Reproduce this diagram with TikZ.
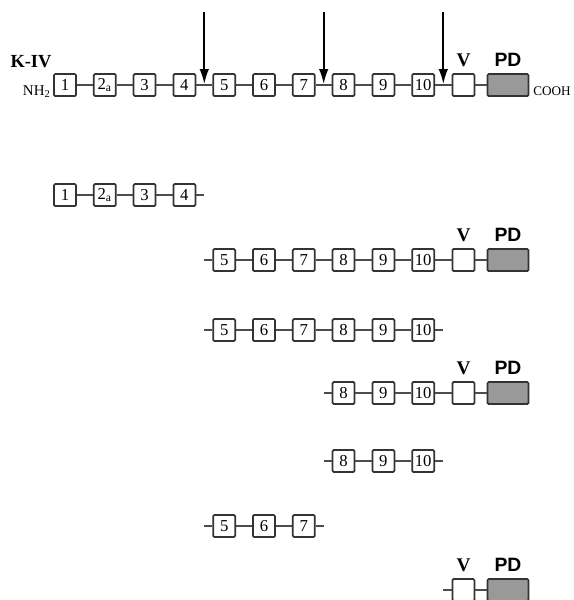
\documentclass[tikz,border=0pt]{standalone}
\usepackage{fontspec}
\setmainfont{Liberation Serif}
\newfontfamily\pdfont{Liberation Sans}
\usepackage{tikz}
\usetikzlibrary{arrows.meta,calc,positioning}
\tikzset{%
	kringle/.style  = {draw=black!80, line width=1pt, rounded corners=0.7pt, minimum size=0.44cm, inner sep=0pt, text centered, font=\fontsize{9.5}{11}\selectfont},
	protease/.style = {kringle, minimum width=0.82cm, fill=black!40},
	vtag/.style     = {inner sep=0pt, font=\bfseries\fontsize{11}{12}\selectfont},
	pdtag/.style    = {inner sep=0pt, font=\pdfont\bfseries\fontsize{11}{12}\selectfont},
	link/.style     = {draw=black!70, line width=0.7pt},
	cleave/.style   = {line width=1pt, -{Latex[length=3mm,width=1.9mm]}},
}
\begin{document}
\begin{tikzpicture}[x=0.02cm,y=-0.02cm]
	\useasboundingbox (0,0) rectangle (574,600);
	% full molecule
	\node[font=\bfseries\fontsize{10.5}{12}\selectfont, anchor=base, inner sep=0pt] (kiv) at (31,67) {K-IV};
	\node[font=\fontsize{8.5}{9}\selectfont, anchor=base east, inner sep=0pt] (nh) at (51,95) {NH\textsubscript{2}};
	\foreach \k/\t/\x in {1/1/65,2/2\textsubscript{a}/104.8,3/3/144.6,4/4/184.4,5/5/224.2,6/6/264,7/7/303.8,8/8/343.6,9/9/383.4,10/10/423.2}
		\node[kringle] (a\k) at (\x,85) {\t};
	\node[kringle] (aV) at (463.5,85) {};
	\node[protease] (aPD) at (508,85) {};
	\node[vtag, above=3.5pt of aV] (aVt) {V};
	\node[pdtag, above=3.5pt of aPD] (aPDt) {PD};
	\node[font=\fontsize{7.5}{8}\selectfont, anchor=base west, inner sep=0pt] (cooh) at (533,95) {COOH};
	\foreach \i/\j in {1/2,2/3,3/4,4/5,5/6,6/7,7/8,8/9,9/10,10/V,V/PD}
		\draw[link] (a\i) -- (a\j);
	% cleavage sites
	\coordinate (cut1) at (204.3,84);
	\coordinate (cut2) at (323.7,84);
	\coordinate (cut3) at (443.3,84);
	\coordinate (top1) at (204.3,12);
	\coordinate (top2) at (323.7,12);
	\coordinate (top3) at (443.3,12);
	\draw[cleave] (top1) -- (cut1);
	\draw[cleave] (top2) -- (cut2);
	\draw[cleave] (top3) -- (cut3);

	% fragment 1-4
	\foreach \k/\t/\x in {1/1/65,2/2\textsubscript{a}/104.8,3/3/144.6,4/4/184.4}
		\node[kringle] (b\k) at (\x,195) {\t};
	\coordinate (bR) at (204.3,195);
	\foreach \i/\j in {1/2,2/3,3/4,4/R}
		\draw[link] (b\i) -- (b\j);

	% fragment 5-PD
	\coordinate (cL) at (204.3,260);
	\foreach \k/\x in {5/224.2,6/264,7/303.8,8/343.6,9/383.4,10/423.2}
		\node[kringle] (c\k) at (\x,260) {\k};
	\node[kringle] (cV) at (463.5,260) {};
	\node[protease] (cPD) at (508,260) {};
	\node[vtag, above=3.5pt of cV] (cVt) {V};
	\node[pdtag, above=3.5pt of cPD] (cPDt) {PD};
	\foreach \i/\j in {L/5,5/6,6/7,7/8,8/9,9/10,10/V,V/PD}
		\draw[link] (c\i) -- (c\j);

	% fragment 5-10
	\coordinate (dL) at (204.3,330);
	\coordinate (dR) at (443.3,330);
	\foreach \k/\x in {5/224.2,6/264,7/303.8,8/343.6,9/383.4,10/423.2}
		\node[kringle] (d\k) at (\x,330) {\k};
	\foreach \i/\j in {L/5,5/6,6/7,7/8,8/9,9/10,10/R}
		\draw[link] (d\i) -- (d\j);

	% fragment 8-PD
	\coordinate (eL) at (323.7,393);
	\foreach \k/\x in {8/343.6,9/383.4,10/423.2}
		\node[kringle] (e\k) at (\x,393) {\k};
	\node[kringle] (eV) at (463.5,393) {};
	\node[protease] (ePD) at (508,393) {};
	\node[vtag, above=3.5pt of eV] (eVt) {V};
	\node[pdtag, above=3.5pt of ePD] (ePDt) {PD};
	\foreach \i/\j in {L/8,8/9,9/10,10/V,V/PD}
		\draw[link] (e\i) -- (e\j);

	% fragment 8-10
	\coordinate (fL) at (323.7,461);
	\coordinate (fR) at (443.3,461);
	\foreach \k/\x in {8/343.6,9/383.4,10/423.2}
		\node[kringle] (f\k) at (\x,461) {\k};
	\foreach \i/\j in {L/8,8/9,9/10,10/R}
		\draw[link] (f\i) -- (f\j);

	% fragment 5-7
	\coordinate (gL) at (204.3,526);
	\coordinate (gR) at (323.7,526);
	\foreach \k/\x in {5/224.2,6/264,7/303.8}
		\node[kringle] (g\k) at (\x,526) {\k};
	\foreach \i/\j in {L/5,5/6,6/7,7/R}
		\draw[link] (g\i) -- (g\j);

	% fragment V-PD
	\coordinate (hL) at (443.3,590);
	\node[kringle] (hV) at (463.5,590) {};
	\node[protease] (hPD) at (508,590) {};
	\node[vtag, above=3.5pt of hV] (hVt) {V};
	\node[pdtag, above=3.5pt of hPD] (hPDt) {PD};
	\foreach \i/\j in {L/V,V/PD}
		\draw[link] (h\i) -- (h\j);
\end{tikzpicture}
\end{document}
